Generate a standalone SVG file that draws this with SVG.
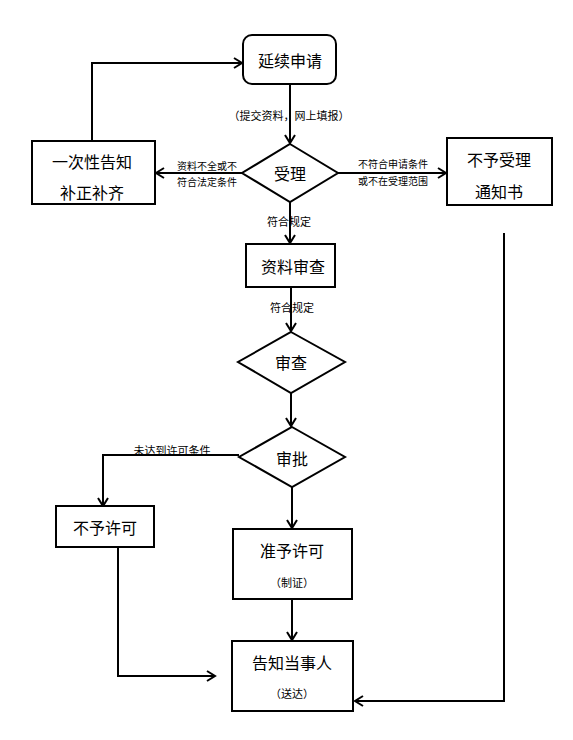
<svg xmlns="http://www.w3.org/2000/svg" width="573" height="740" viewBox="0 0 573 740">
<style>
.box{fill:#fff;stroke:#000;stroke-width:2}
.ln{fill:none;stroke:#000;stroke-width:2}
.t{font-family:"Noto Sans CJK SC","Noto Sans",sans-serif;font-size:16px;fill:#000;text-anchor:middle;dominant-baseline:central}
.s{font-family:"Noto Sans CJK SC","Noto Sans",sans-serif;font-size:10px;fill:#000;dominant-baseline:central}
.m{font-family:"Noto Sans CJK SC","Noto Sans",sans-serif;font-size:11px;fill:#000;text-anchor:middle;dominant-baseline:central}
</style>
<defs>
<marker id="a" markerWidth="12" markerHeight="12" refX="10" refY="6" orient="auto" markerUnits="userSpaceOnUse">
<path d="M2,1 L10,6 L2,11" fill="none" stroke="#000" stroke-width="2"/>
</marker>
</defs>
<rect width="573" height="740" fill="#fff"/>
<g id="connectors">
<path class="ln" d="M290,84 V143" marker-end="url(#a)"/>
<path class="ln" d="M242,173 H156" marker-end="url(#a)"/>
<path class="ln" d="M92,141 V63 H242" marker-end="url(#a)"/>
<path class="ln" d="M338,173 H446" marker-end="url(#a)"/>
<path class="ln" d="M290,202 V243" marker-end="url(#a)"/>
<path class="ln" d="M291,287 V331" marker-end="url(#a)"/>
<path class="ln" d="M291,393 V426" marker-end="url(#a)"/>
<path class="ln" d="M239,455 H103 V506" marker-end="url(#a)"/>
<path class="ln" d="M292,487 V528" marker-end="url(#a)"/>
<path class="ln" d="M292,600 V640" marker-end="url(#a)"/>
<path class="ln" d="M118,547 V676 H215" marker-end="url(#a)"/>
<path class="ln" d="M504,233 V701 H355" marker-end="url(#a)"/>
<text class="m" x="289" y="115">（提交资料，网上填报）</text>
<text class="s" x="177" y="165">资料不全或不</text>
<text class="s" x="177" y="181">符合法定条件</text>
<text class="s" x="358" y="163">不符合申请条件</text>
<text class="s" x="358" y="180">或不在受理范围</text>
<text class="m" x="289" y="221">符合规定</text>
<text class="m" x="292" y="307">符合规定</text>
<text class="m" x="172" y="450">未达到许可条件</text>
</g>
<g id="n1"><rect class="box" x="243" y="35" width="93" height="49" rx="9"/><text class="t" x="290" y="60">延续申请</text></g>
<g id="n2"><polygon class="box" points="290,144 338,173 290,202 242,173"/><text class="t" x="290" y="173">受理</text></g>
<g id="n3"><rect class="box" x="32" y="141" width="123" height="63"/><text class="t" x="92" y="161">一次性告知</text><text class="t" x="92" y="192">补正补齐</text></g>
<g id="n4"><rect class="box" x="447" y="138" width="105" height="67"/><text class="t" x="499" y="159">不予受理</text><text class="t" x="499" y="191">通知书</text></g>
<g id="n5"><rect class="box" x="246" y="244" width="89" height="43"/><text class="t" x="293" y="266">资料审查</text></g>
<g id="n6"><polygon class="box" points="291,332 345,362 291,393 238,362"/><text class="t" x="291" y="362">审查</text></g>
<g id="n7"><polygon class="box" points="292,427 345,457 292,487 239,457"/><text class="t" x="292" y="458">审批</text></g>
<g id="n8"><rect class="box" x="56" y="506" width="98" height="41"/><text class="t" x="105" y="527">不予许可</text></g>
<g id="n9"><rect class="box" x="233" y="529" width="119" height="70"/><text class="t" x="292" y="550">准予许可</text><text class="m" x="292" y="582">（制证）</text></g>
<g id="n10"><rect class="box" x="232" y="641" width="121" height="70"/><text class="t" x="292" y="662">告知当事人</text><text class="m" x="292" y="693">（送达）</text></g>
</svg>
